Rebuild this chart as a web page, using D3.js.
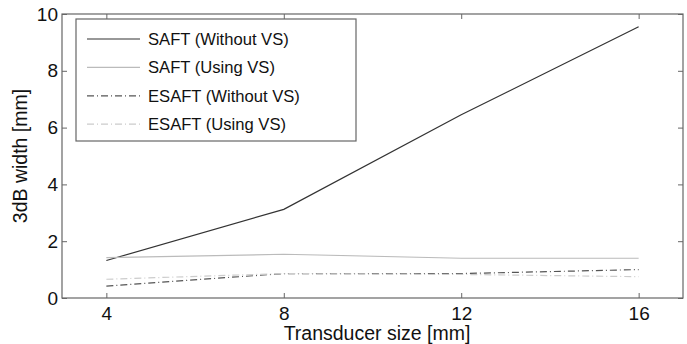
<!DOCTYPE html>
<html>
<head>
<meta charset="utf-8">
<script src="https://cdn.jsdelivr.net/npm/d3@7"></script>
<style>
  body { margin: 0; background: #fff; }
  text { font-family: "Liberation Sans", Arial, sans-serif; fill: #111; }
</style>
</head>
<body>
<div id="chart"></div>
<script>
const width = 687;
const height = 344;

// data
const sizes = [4, 8, 12, 16];
const saftWithout = [1.32, 3.12, 6.45, 9.55];
const saftUsing = [1.42, 1.54, 1.40, 1.40];
const esaftWithout = [0.42, 0.86, 0.86, 1.00];
const esaftUsing = [0.66, 0.86, 0.83, 0.75];
const xTicks = [4, 8, 12, 16];
const yTicks = [0, 2, 4, 6, 8, 10];

const series = [
  { name: "SAFT (Without VS)", values: saftWithout, color: "#333", dash: null },
  { name: "SAFT (Using VS)", values: saftUsing, color: "#bbb", dash: null },
  { name: "ESAFT (Without VS)", values: esaftWithout, color: "#555", dash: "7,3,1,3" },
  { name: "ESAFT (Using VS)", values: esaftUsing, color: "#ccc", dash: "7,3,1,3" }
];

const margin = { top: 14, right: 4, bottom: 46, left: 62 };
const iw = width - margin.left - margin.right;
const ih = height - margin.top - margin.bottom;

const svg = d3.select("#chart")
  .append("svg")
  .attr("width", width)
  .attr("height", height);

const g = svg.append("g")
  .attr("transform", `translate(${margin.left},${margin.top})`);

const x = d3.scaleLinear().domain([3, 17]).range([0, iw]);
const y = d3.scaleLinear().domain([0, 10]).range([ih, 0]);

// axes with inward ticks on all four sides
const axisColor = "#666";
const styleAxis = (sel, showText) => {
  sel.select(".domain").remove();
  sel.selectAll(".tick line").attr("stroke", axisColor).attr("stroke-width", 1);
  sel.selectAll(".tick text")
    .style("font-size", "19px")
    .attr("fill", "#111")
    .attr("opacity", showText ? 1 : 0);
};

g.append("g")
  .attr("transform", `translate(0,${ih})`)
  .call(d3.axisBottom(x).tickValues(xTicks).tickSizeInner(-5).tickSizeOuter(0).tickPadding(8.5))
  .call(s => styleAxis(s, true));

g.append("g")
  .call(d3.axisTop(x).tickValues(xTicks).tickSizeInner(-5).tickSizeOuter(0).tickFormat(""))
  .call(s => styleAxis(s, false));

g.append("g")
  .call(d3.axisLeft(y).tickValues(yTicks).tickSizeInner(-5).tickSizeOuter(0).tickPadding(4))
  .call(s => styleAxis(s, true));

g.append("g")
  .attr("transform", `translate(${iw},0)`)
  .call(d3.axisRight(y).tickValues(yTicks).tickSizeInner(-5).tickSizeOuter(0).tickFormat(""))
  .call(s => styleAxis(s, false));

g.append("rect")
  .attr("width", iw)
  .attr("height", ih)
  .attr("fill", "none")
  .attr("stroke", axisColor)
  .attr("stroke-width", 1.2);

// lines
const line = d3.line()
  .x((d, i) => x(sizes[i]))
  .y(d => y(d));

g.selectAll(".series")
  .data(series)
  .join("path")
  .attr("class", "series")
  .attr("d", d => line(d.values))
  .attr("fill", "none")
  .attr("stroke", d => d.color)
  .attr("stroke-width", 1.2)
  .attr("stroke-dasharray", d => d.dash);

// legend
const legend = svg.append("g").attr("transform", "translate(76,19)");
legend.append("rect")
  .attr("width", 280)
  .attr("height", 122)
  .attr("fill", "#fff")
  .attr("stroke", axisColor)
  .attr("stroke-width", 1.2);

const item = legend.selectAll(".item")
  .data(series)
  .join("g")
  .attr("class", "item")
  .attr("transform", (d, i) => `translate(0,${20 + i * 28.4})`);

item.append("line")
  .attr("x1", 11).attr("x2", 64)
  .attr("stroke", d => d.color)
  .attr("stroke-width", 1.2)
  .attr("stroke-dasharray", d => d.dash);

item.append("text")
  .attr("x", 72)
  .attr("dy", "0.35em")
  .style("font-size", "16.6px")
  .text(d => d.name);

// axis titles
svg.append("text")
  .attr("x", 377)
  .attr("y", 340)
  .attr("text-anchor", "middle")
  .style("font-size", "19.5px")
  .text("Transducer size [mm]");

svg.append("text")
  .attr("transform", `translate(27,${margin.top + ih / 2}) rotate(-90)`)
  .attr("text-anchor", "middle")
  .style("font-size", "19.5px")
  .text("3dB width [mm]");
</script>
</body>
</html>
